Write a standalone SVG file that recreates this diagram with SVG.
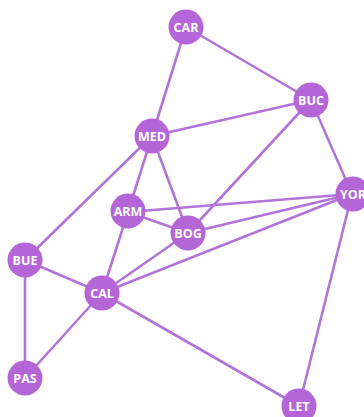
<svg xmlns="http://www.w3.org/2000/svg" width="364" height="417" viewBox="0 0 364 417">
<style>
.e{stroke:#b374d8;stroke-width:2.6;fill:none;stroke-linecap:round}
.n circle{fill:#b566d6}
.n text{fill:#ffffff;font-family:"Open Sans","DejaVu Sans",sans-serif;font-weight:bold;font-size:12.5px;text-anchor:middle;dominant-baseline:central}
</style>
<rect width="364" height="417" fill="#ffffff"/>
<g id="edges">
<line class="e" x1="186" y1="27" x2="152" y2="136"/>
<line class="e" x1="186" y1="27" x2="311" y2="100"/>
<line class="e" x1="311" y1="100" x2="152" y2="136"/>
<line class="e" x1="311" y1="100" x2="352" y2="194"/>
<line class="e" x1="311" y1="100" x2="188" y2="233"/>
<line class="e" x1="152" y1="136" x2="128" y2="212"/>
<line class="e" x1="152" y1="136" x2="188" y2="233"/>
<line class="e" x1="152" y1="136" x2="25" y2="260"/>
<line class="e" x1="128" y1="212" x2="352" y2="194"/>
<line class="e" x1="128" y1="212" x2="188" y2="233"/>
<line class="e" x1="128" y1="212" x2="102" y2="293"/>
<line class="e" x1="188" y1="233" x2="352" y2="194"/>
<line class="e" x1="188" y1="233" x2="102" y2="293"/>
<line class="e" x1="102" y1="293" x2="352" y2="194"/>
<line class="e" x1="352" y1="194" x2="299" y2="406"/>
<line class="e" x1="25" y1="260" x2="102" y2="293"/>
<line class="e" x1="25" y1="260" x2="25" y2="378"/>
<line class="e" x1="102" y1="293" x2="25" y2="378"/>
<line class="e" x1="102" y1="293" x2="299" y2="406"/>
</g>
<g id="CAR" class="n"><circle cx="186" cy="27" r="17.5"/><text x="186" y="27">CAR</text></g>
<g id="BUC" class="n"><circle cx="311" cy="100" r="17.5"/><text x="311" y="100">BUC</text></g>
<g id="MED" class="n"><circle cx="152" cy="136" r="17.5"/><text x="152" y="136">MED</text></g>
<g id="YOR" class="n"><circle cx="353" cy="194" r="17.5"/><text x="353" y="194">YOR</text></g>
<g id="ARM" class="n"><circle cx="128" cy="211" r="17.5"/><text x="128" y="211">ARM</text></g>
<g id="BOG" class="n"><circle cx="188" cy="233" r="17.5"/><text x="188" y="233">BOG</text></g>
<g id="BUE" class="n"><circle cx="25" cy="260" r="17.5"/><text x="25" y="260">BUE</text></g>
<g id="CAL" class="n"><circle cx="102" cy="293" r="17.5"/><text x="102" y="293">CAL</text></g>
<g id="PAS" class="n"><circle cx="25" cy="378" r="17.5"/><text x="25" y="378">PAS</text></g>
<g id="LET" class="n"><circle cx="299" cy="406" r="17.5"/><text x="299" y="406">LET</text></g>
</svg>
